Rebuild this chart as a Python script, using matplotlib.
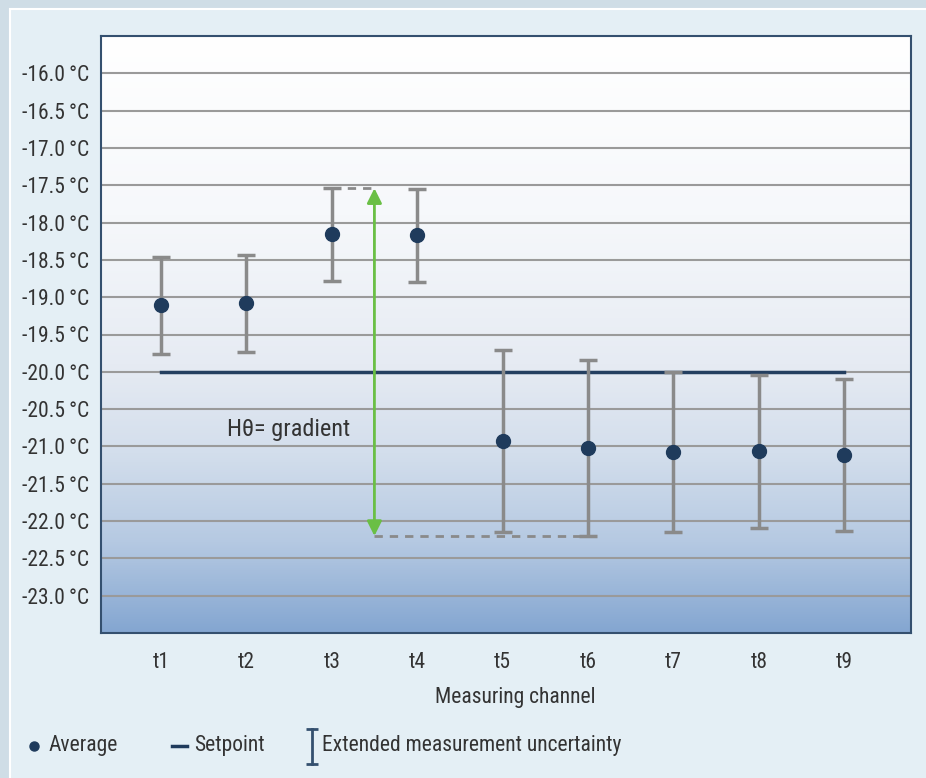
import numpy as np
import matplotlib.pyplot as plt
from matplotlib.colors import LinearSegmentedColormap
from matplotlib.patches import Rectangle
from matplotlib.lines import Line2D

plt.rcParams['font.family'] = ['Roboto Condensed', 'IBM Plex Sans Condensed', 'DejaVu Sans']

# data
channels = ['t1', 't2', 't3', 't4', 't5', 't6', 't7', 't8', 't9']
average = [-19.10, -19.08, -18.15, -18.17, -20.93, -21.02, -21.08, -21.06, -21.11]
upper = [-18.46, -18.44, -17.54, -17.55, -19.71, -19.84, -20.00, -20.04, -20.10]
lower = [-19.76, -19.73, -18.78, -18.80, -22.14, -22.20, -22.14, -22.09, -22.13]
setpoint = -20.0
yticks = [-16.0, -16.5, -17.0, -17.5, -18.0, -18.5, -19.0, -19.5, -20.0,
          -20.5, -21.0, -21.5, -22.0, -22.5, -23.0]
gradient_label = 'H\u03b8= gradient'

W, H = 926, 778
fig = plt.figure(figsize=(W / 100, H / 100), dpi=100, facecolor='#cfdde6')

# inner panel
fig.patches.append(Rectangle((10 / W, -0.01), 1, 1 - 9 / H + 0.01, transform=fig.transFigure,
                             facecolor='#e4eff5', edgecolor='white', lw=1.5, zorder=-1))

ax = fig.add_axes([101 / W, (H - 633) / H, 810 / W, 597 / H])
ax.set_facecolor('none')

x = np.arange(1, len(channels) + 1)
ax.set_xlim(0.3, 9.78)
ax.set_ylim(-23.5, -15.5)

# gradient background
cmap = LinearSegmentedColormap.from_list('bg', [
    (0.0, '#ffffff'), (0.3, '#f6f8fb'), (0.55, '#e6ebf3'),
    (0.7, '#d3deec'), (0.85, '#b5c9e2'), (1.0, '#84a6d1')])
grad = np.linspace(0, 1, 256).reshape(-1, 1)
ax.imshow(grad, cmap=cmap, aspect='auto', extent=[0.3, 9.78, -23.5, -15.5],
          origin='upper', zorder=0)

# grid
for yt in yticks:
    ax.axhline(yt, color='#9a9a9a', lw=1.5, zorder=1)

# setpoint
ax.plot([x[0], x[-1]], [setpoint, setpoint], color='#243f60', lw=2.5, zorder=3)

# uncertainty bars
avg = np.array(average)
yerr = [avg - np.array(lower), np.array(upper) - avg]
ax.errorbar(x, avg, yerr=yerr, fmt='none', ecolor='#8a8a8a', elinewidth=2.5,
            capsize=6.5, capthick=2.5, zorder=4)
ax.plot(x, avg, 'o', color='#1f3b5c', markersize=10, zorder=5)

# gradient annotation
xa = 3.5
ax.plot([3, xa], [upper[2], upper[2]], color='#8a8a8a', lw=2, ls=(0, (3, 2.5)), zorder=4)
ax.plot([xa, 6], [lower[5], lower[5]], color='#8a8a8a', lw=2, ls=(0, (3, 2.5)), zorder=4)
ax.annotate('', xy=(xa, upper[2]), xytext=(xa, lower[5]),
            arrowprops=dict(arrowstyle='<|-|>', color='#6abf45', lw=2,
                            mutation_scale=22, shrinkA=0, shrinkB=0), zorder=6)
ax.text(1.78, -20.77, gradient_label, fontsize=17.5, color='#333333',
        va='center', ha='left', zorder=6)

# axes styling
ax.set_xticks(x)
ax.set_xticklabels(channels)
ax.set_yticks(yticks)
ax.set_yticklabels([f'{v:.1f}\u2009°C' for v in yticks])
ax.tick_params(length=0, labelsize=15.5, labelcolor='#333333')
ax.tick_params(axis='y', pad=8.5)
ax.tick_params(axis='x', pad=14)
for s in ax.spines.values():
    s.set_color('#34506f')
    s.set_linewidth(1.5)
ax.set_xlabel('Measuring channel', fontsize=15.5, color='#333333', va='center')
ax.xaxis.set_label_coords((515 - 101) / 810, -(697 - 633) / 597)

# legend
ly = 1 - 746 / H
fig.lines.append(Line2D([34 / W], [ly], marker='o', color='#1f3b5c', markersize=6.5,
                        transform=fig.transFigure))
fig.text(49 / W, ly, 'Average', fontsize=15.5, color='#333333', va='center')
fig.lines.append(Line2D([172 / W, 187 / W], [ly, ly], color='#1f3b5c', lw=2.5,
                        transform=fig.transFigure))
fig.text(194 / W, ly, 'Setpoint', fontsize=15.5, color='#333333', va='center')
fig.lines.append(Line2D([312 / W, 312 / W], [1 - 729 / H, 1 - 764 / H], color='#34506f',
                        lw=2, marker='_', markersize=9, markeredgewidth=2,
                        transform=fig.transFigure))
fig.text(322 / W, ly, 'Extended measurement uncertainty', fontsize=15.5,
         color='#333333', va='center')

fig.savefig('out.png', dpi=100, facecolor=fig.get_facecolor())
